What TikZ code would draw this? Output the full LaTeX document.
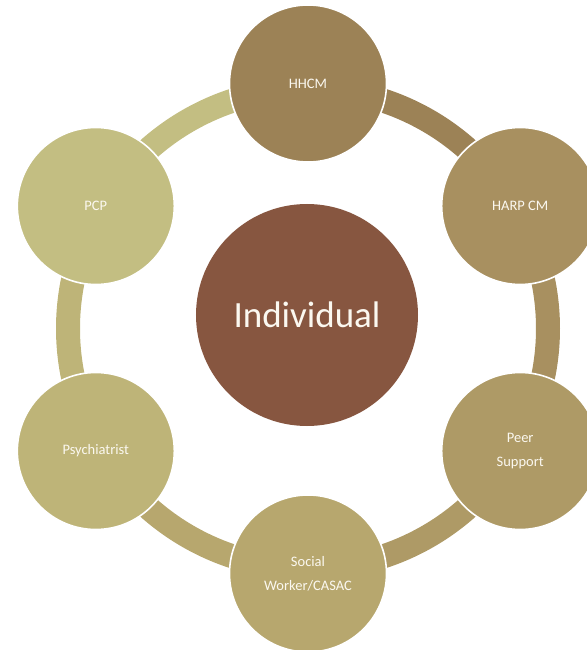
\documentclass[tikz,border=0pt]{standalone}
\usepackage{fontspec}
\setmainfont{Carlito}
\definecolor{cInd}{HTML}{875640}
\definecolor{cHHCM}{HTML}{9C8256}
\definecolor{cHARP}{HTML}{A89060}
\definecolor{cPeer}{HTML}{AE9A66}
\definecolor{cSoc}{HTML}{B7A76E}
\definecolor{cPsy}{HTML}{BEB478}
\definecolor{cPCP}{HTML}{C3BE82}
\definecolor{txt}{HTML}{FBF8F0}
\begin{document}
\begin{tikzpicture}[x=1pt,y=1pt,
  outer/.style={circle,draw=white,line width=1.6pt,minimum size=157pt,inner sep=0pt,
     text=txt,align=center,font=\fontsize{14.5}{24}\selectfont},
  band/.style={line width=24pt,line cap=butt}]
\useasboundingbox (-308,-321.5) rectangle (278,328.5);
% ring bands
\draw[band,cPCP]  (150:240) arc[start angle=150,end angle=90,radius=240];
\draw[band,cHHCM] (90:240) arc[start angle=90,end angle=30,radius=240];
\draw[band,cHARP] (30:240) arc[start angle=30,end angle=-30,radius=240];
\draw[band,cPeer] (-30:240) arc[start angle=-30,end angle=-90,radius=240];
\draw[band,cSoc]  (-90:240) arc[start angle=-90,end angle=-150,radius=240];
\draw[band,cPsy]  (210:240) arc[start angle=210,end angle=150,radius=240];
% outer circles
\node[outer,fill=cHHCM] (hhcm) at (90:245) {HHCM};
\node[outer,fill=cHARP] (harp) at (30:245) {HARP CM};
\node[outer,fill=cPeer] (peer) at (-30:245) {Peer\\Support};
\node[outer,fill=cSoc]  (soc)  at (-90:245) {Social\\Worker/CASAC};
\node[outer,fill=cPsy]  (psy)  at (210:245) {Psychiatrist};
\node[outer,fill=cPCP]  (pcp)  at (150:245) {PCP};
% center
\node[circle,fill=cInd,minimum size=222pt,inner sep=0pt,text=txt,
      font=\fontsize{37}{44}\selectfont] (ind) at (-1,13.5) {Individual};
\end{tikzpicture}
\end{document}
